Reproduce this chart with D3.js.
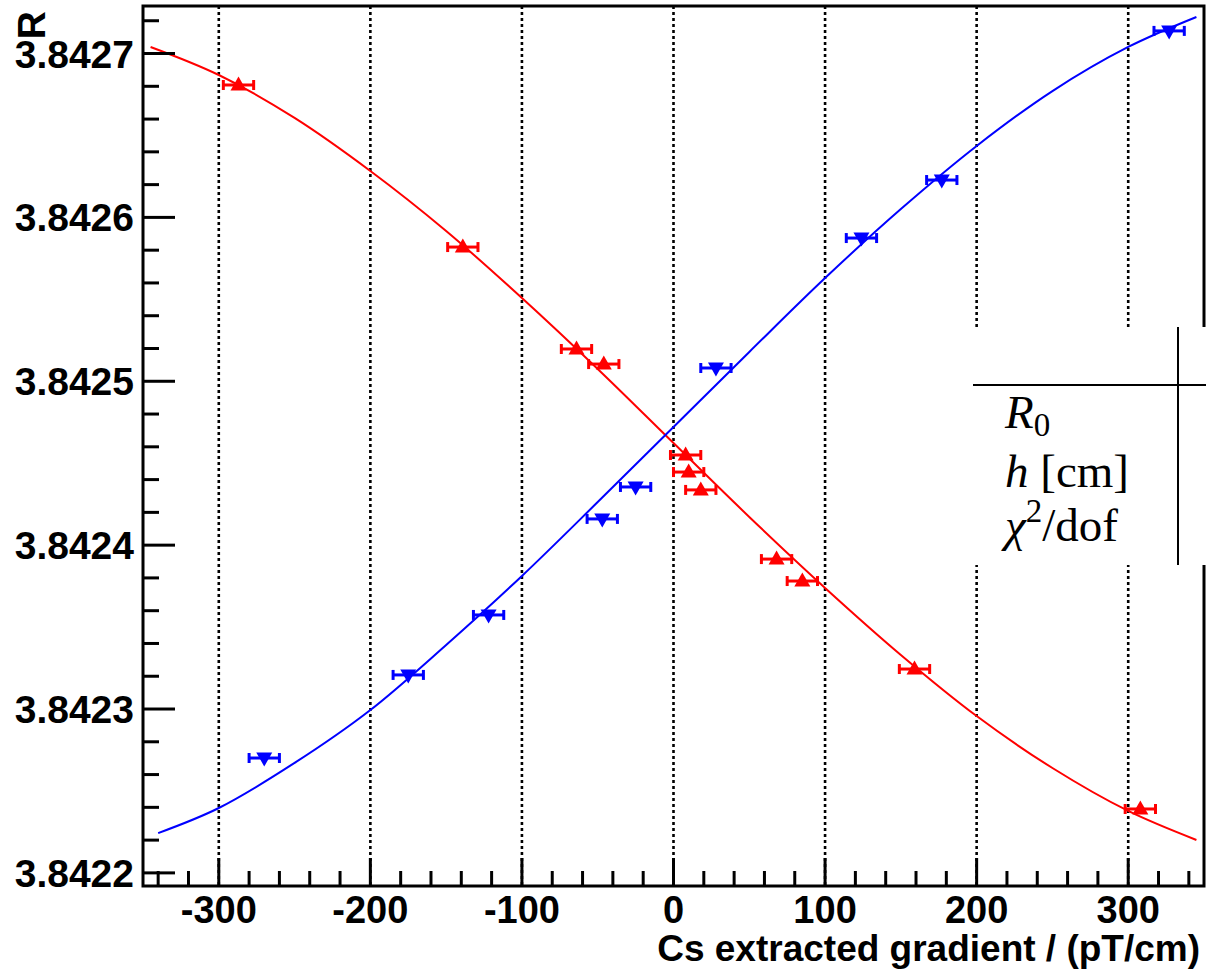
<!DOCTYPE html>
<html>
<head>
<meta charset="utf-8">
<script src="https://cdn.jsdelivr.net/npm/d3@7"></script>
<style>
  html, body { margin: 0; padding: 0; background: #fff; }
  svg { display: block; }
  .axis-text { font-family: "Liberation Sans", Arial, Helvetica, sans-serif; font-weight: bold; fill: #000; }
  .stat-text { font-family: "Liberation Serif", "DejaVu Serif", serif; fill: #000; }
</style>
</head>
<body>
<svg id="chart" width="1206" height="974"></svg>
<script>
// Measured ratio R versus the Cs-extracted gradient, two field configurations
const redGradient = [-287, -139, -64, -46, 8, 10, 18, 68, 85, 159, 308];
const redR = [3.8426808, 3.8425819, 3.8425197, 3.8425105, 3.8424550, 3.8424446,
              3.8424337, 3.8423915, 3.8423781, 3.8423244, 3.8422390];
const blueGradient = [-270, -175, -122, -47, -25, 28, 124, 177, 327];
const blueR = [3.8422701, 3.8423208, 3.8423574, 3.8424160, 3.8424355, 3.8425081,
               3.8425874, 3.8426228, 3.8427138];
// horizontal uncertainty on the gradient, pT/cm
const gradientErr = 10;

// fitted curves, sampled along the gradient axis
const redFitX = [-345, -300, -250, -200, -150, -100, -50, 0, 50, 100, 150, 200, 250, 300, 345];
const redFitR = [3.8427040, 3.8426869, 3.8426607, 3.8426283, 3.8425917, 3.8425508, 3.8425075,
                 3.8424623, 3.8424172, 3.8423739, 3.8423330, 3.8422957, 3.8422640, 3.8422378, 3.8422201];
const blueFitX = [-340, -300, -250, -200, -150, -100, -50, 0, 50, 100, 150, 200, 250, 300, 345];
const blueFitR = [3.8422243, 3.8422396, 3.8422671, 3.8422994, 3.8423391, 3.8423812, 3.8424263,
                  3.8424721, 3.8425179, 3.8425630, 3.8426051, 3.8426436, 3.8426771, 3.8427040, 3.8427223];

// axis ticks and labels
const xMajorTicks = [-300, -200, -100, 0, 100, 200, 300];
const xMinorTicks = [-340, -320, -280, -260, -240, -220, -180, -160, -140, -120, -80, -60, -40, -20,
                     20, 40, 60, 80, 120, 140, 160, 180, 220, 240, 260, 280, 320, 340];
const yMajorTicks = [3.8422, 3.8423, 3.8424, 3.8425, 3.8426, 3.8427];
const yMinorTicks = [3.84222, 3.84224, 3.84226, 3.84228, 3.84232, 3.84234, 3.84236, 3.84238,
                     3.84242, 3.84244, 3.84246, 3.84248, 3.84252, 3.84254, 3.84256, 3.84258,
                     3.84262, 3.84264, 3.84266, 3.84268, 3.84272];
const xTitle = "Cs extracted gradient / (pT/cm)";
const yTitle = "R";

const svg = d3.select("#chart");
const frame = { left: 143, right: 1204, top: 6, bottom: 886 };

const x = d3.scaleLinear().domain([-350, 350]).range([frame.left, frame.right]);
const y = d3.scaleLinear().domain([3.842192, 3.842729]).range([frame.bottom, frame.top]);

svg.append("rect").attr("width", 1206).attr("height", 974).attr("fill", "#fff");

svg.append("clipPath").attr("id", "plot-clip")
  .append("rect")
  .attr("x", frame.left).attr("y", frame.top)
  .attr("width", frame.right - frame.left).attr("height", frame.bottom - frame.top);

// vertical dotted grid at the major gradient ticks
svg.append("g").selectAll("line").data(xMajorTicks).join("line")
  .attr("x1", d => x(d)).attr("x2", d => x(d))
  .attr("y1", frame.top).attr("y2", frame.bottom)
  .attr("stroke", "#000").attr("stroke-width", 2.6)
  .attr("stroke-dasharray", "3,3");

// fit curves
const line = d3.line().x(d => x(d[0])).y(d => y(d[1])).curve(d3.curveCatmullRom.alpha(0.5));
const plot = svg.append("g").attr("clip-path", "url(#plot-clip)");
plot.append("path")
  .datum(d3.zip(redFitX, redFitR))
  .attr("d", line).attr("fill", "none").attr("stroke", "#ff0000").attr("stroke-width", 2);
plot.append("path")
  .datum(d3.zip(blueFitX, blueFitR))
  .attr("d", line).attr("fill", "none").attr("stroke", "#0000ff").attr("stroke-width", 2);

// data points with horizontal error bars
function drawSeries(xs, rs, color, up) {
  const g = plot.append("g");
  const pts = d3.zip(xs, rs);
  g.selectAll("line.bar").data(pts).join("line").attr("class", "bar")
    .attr("x1", d => x(d[0] - gradientErr)).attr("x2", d => x(d[0] + gradientErr))
    .attr("y1", d => y(d[1])).attr("y2", d => y(d[1]))
    .attr("stroke", color).attr("stroke-width", 3);
  ["-", "+"].forEach(side => {
    g.selectAll("line.cap" + (side === "-" ? "l" : "r")).data(pts).join("line")
      .attr("class", "cap" + (side === "-" ? "l" : "r"))
      .attr("x1", d => x(side === "-" ? d[0] - gradientErr : d[0] + gradientErr))
      .attr("x2", d => x(side === "-" ? d[0] - gradientErr : d[0] + gradientErr))
      .attr("y1", d => y(d[1]) - 5).attr("y2", d => y(d[1]) + 5)
      .attr("stroke", color).attr("stroke-width", 3);
  });
  const tri = up ? "M0,-8.5L8,5.5L-8,5.5Z" : "M0,8.5L8,-5.5L-8,-5.5Z";
  g.selectAll("path").data(pts).join("path")
    .attr("transform", d => `translate(${x(d[0])},${y(d[1])})`)
    .attr("d", tri).attr("fill", color);
}
drawSeries(redGradient, redR, "#ff0000", true);
drawSeries(blueGradient, blueR, "#0000ff", false);

// ticks on the left and bottom axes, pointing into the frame
const ticks = svg.append("g").attr("stroke", "#000").attr("stroke-width", 3);
ticks.selectAll("line.xmaj").data(xMajorTicks).join("line").attr("class", "xmaj")
  .attr("x1", d => x(d)).attr("x2", d => x(d))
  .attr("y1", frame.bottom).attr("y2", frame.bottom - 28);
ticks.selectAll("line.xmin").data(xMinorTicks).join("line").attr("class", "xmin")
  .attr("x1", d => x(d)).attr("x2", d => x(d))
  .attr("y1", frame.bottom).attr("y2", frame.bottom - 15);
ticks.selectAll("line.ymaj").data(yMajorTicks).join("line").attr("class", "ymaj")
  .attr("x1", frame.left).attr("x2", frame.left + 32)
  .attr("y1", d => y(d)).attr("y2", d => y(d));
ticks.selectAll("line.ymin").data(yMinorTicks).join("line").attr("class", "ymin")
  .attr("x1", frame.left).attr("x2", frame.left + 16)
  .attr("y1", d => y(d)).attr("y2", d => y(d));

// frame
svg.append("rect")
  .attr("x", frame.left).attr("y", frame.top)
  .attr("width", frame.right - frame.left).attr("height", frame.bottom - frame.top)
  .attr("fill", "none").attr("stroke", "#000").attr("stroke-width", 3);

// tick labels
svg.append("g").selectAll("text").data(yMajorTicks).join("text")
  .attr("class", "axis-text")
  .attr("x", 134).attr("y", d => y(d) + 14)
  .attr("text-anchor", "end").attr("font-size", 39)
  .text(d => d3.format(".4f")(d));
svg.append("g").selectAll("text").data(xMajorTicks).join("text")
  .attr("class", "axis-text")
  .attr("x", d => x(d)).attr("y", 923)
  .attr("text-anchor", "middle").attr("font-size", 38)
  .text(d => String(d));

// axis titles
svg.append("text").attr("class", "axis-text")
  .attr("x", 1200).attr("y", 961)
  .attr("text-anchor", "end").attr("font-size", 37)
  .text(xTitle);
svg.append("text").attr("class", "axis-text")
  .attr("transform", "translate(45,11) rotate(-90)")
  .attr("text-anchor", "end").attr("font-size", 39)
  .text(yTitle);

// fit-parameter table
const stat = svg.append("g");
stat.append("rect").attr("x", 973).attr("y", 327).attr("width", 240).attr("height", 238).attr("fill", "#fff");
stat.append("line").attr("x1", 973).attr("x2", 1206).attr("y1", 385).attr("y2", 385)
  .attr("stroke", "#000").attr("stroke-width", 2);
stat.append("line").attr("x1", 1178).attr("x2", 1178).attr("y1", 327).attr("y2", 565)
  .attr("stroke", "#000").attr("stroke-width", 2);

const t1 = stat.append("text").attr("class", "stat-text").attr("x", 1005).attr("y", 428).attr("font-size", 47);
t1.append("tspan").attr("font-style", "italic").text("R");
t1.append("tspan").attr("font-size", 33).attr("dy", 8).text("0");

const t2 = stat.append("text").attr("class", "stat-text").attr("x", 1005).attr("y", 487).attr("font-size", 47);
t2.append("tspan").attr("font-style", "italic").text("h");
t2.append("tspan").text(" [cm]");

const t3 = stat.append("text").attr("class", "stat-text").attr("x", 1005).attr("y", 541).attr("font-size", 47);
t3.append("tspan").attr("font-style", "italic").text("χ");
t3.append("tspan").attr("font-size", 33).attr("dy", -19).text("2");
t3.append("tspan").attr("dy", 19).text("/dof");
</script>
</body>
</html>
